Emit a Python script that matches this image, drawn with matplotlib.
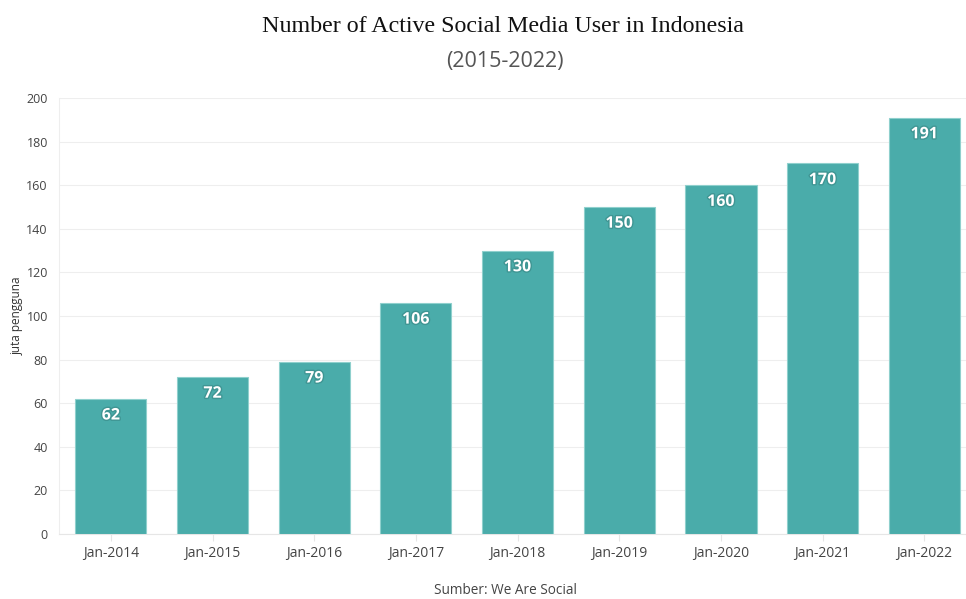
import numpy as np
import matplotlib.pyplot as plt
import matplotlib.patheffects as pe

# data
periods = ['Jan-2014', 'Jan-2015', 'Jan-2016', 'Jan-2017', 'Jan-2018',
           'Jan-2019', 'Jan-2020', 'Jan-2021', 'Jan-2022']
users = [62, 72, 79, 106, 130, 150, 160, 170, 191]
y_ticks = [0, 20, 40, 60, 80, 100, 120, 140, 160, 180, 200]

plt.rcParams['font.family'] = ['Open Sans', 'DejaVu Sans']

fig = plt.figure(figsize=(9.66, 5.99), dpi=100)
ax = fig.add_axes([59/966, 1-534/599, 1-59/966, (534-98)/599])

x = np.arange(len(periods))
ax.bar(x, users, width=0.7, color='#4aacaa', edgecolor='#8fd0cd', linewidth=0.8, zorder=3)

for xi, v in zip(x, users):
    ax.annotate(str(v), (xi, v), xytext=(0, -12), textcoords='offset points',
                ha='center', va='center', color='white', fontsize=11.5, fontweight='bold',
                path_effects=[pe.withStroke(linewidth=2, foreground='#3f9593')], zorder=4)

ax.set_xlim(-0.51, 8.41)
ax.set_ylim(0, 200)
ax.set_yticks(y_ticks)
ax.set_xticks(x)
ax.set_xticklabels(periods)
ax.tick_params(axis='y', length=0, pad=8, labelsize=9, labelcolor='#444444')
ax.tick_params(axis='x', length=5, color='#e6e6e6', pad=4, labelsize=10, labelcolor='#444444')
ax.grid(axis='y', color='#eeeeee', linewidth=0.8, zorder=0)
for s in ['top', 'right']:
    ax.spines[s].set_visible(False)
ax.spines['left'].set_color('#eeeeee')
ax.spines['bottom'].set_color('#e6e6e6')

fig.text(17/966, 1-316/599, 'juta pengguna', rotation=90, ha='center', va='center',
         fontsize=8.5, color='#333333')

fig.text(503/966, 1-27/599, 'Number of Active Social Media User in Indonesia',
         ha='center', va='center', fontsize=17.3, family='Liberation Serif', color='#111111')
fig.text(505/966, 1-61/599, '(2015-2022)', ha='center', va='center',
         fontsize=15.5, color='#555555')
fig.text(505/966, 1-591/599, 'Sumber: We Are Social', ha='center', va='center',
         fontsize=9.8, color='#444444')

fig.savefig('out.png', dpi=100)
